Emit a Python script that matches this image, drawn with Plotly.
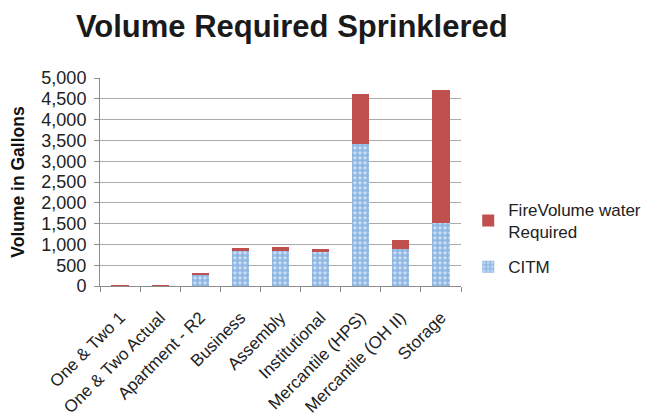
import plotly.graph_objects as go

categories = ["One & Two 1", "One & Two Actual", "Apartment - R2", "Business", "Assembly",
              "Institutional", "Mercantile (HPS)", "Mercantile (OH II)", "Storage"]
citm = [0, 0, 265, 865, 840, 840, 3410, 885, 1510]
fire_required = [20, 20, 50, 45, 95, 45, 1195, 215, 3195]
y_ticks = [0, 500, 1000, 1500, 2000, 2500, 3000, 3500, 4000, 4500, 5000]

fig = go.Figure()
fig.add_trace(go.Bar(
    x=categories, y=citm, name="CITM", legendgroup="b", legendrank=2,
    marker=dict(color="#dde8f6", line=dict(width=0),
                pattern=dict(shape=".", fgcolor="#3f86d0", bgcolor="#dde8f6", size=5, solidity=0.75)),
))
fig.add_trace(go.Bar(
    x=categories, y=fire_required, name="FireVolume water<br>Required", legendgroup="a", legendrank=1,
    marker=dict(color="#c0504d", line=dict(width=0)),
))

fig.update_layout(
    width=645, height=409,
    barmode="stack", bargap=0.57,
    paper_bgcolor="white", plot_bgcolor="white",
    margin=dict(l=92, r=192, t=70, b=131, autoexpand=False),
    title=dict(text="<b>Volume Required Sprinklered</b>", x=0.44, xanchor="center", y=0.955, yanchor="middle",
               font=dict(family="Liberation Sans, Arial", size=31, color="#1a1a1a")),
    font=dict(family="Liberation Sans, Arial", color="#222"),
    legend=dict(x=1.02, y=0.452, xanchor="left", yanchor="top", traceorder="grouped",
                font=dict(size=17, color="#222"), itemwidth=30, tracegroupgap=10,
                bgcolor="rgba(0,0,0,0)"),
    yaxis=dict(range=[0, 5000], tickvals=y_ticks, tickformat=",d",
               showgrid=True, gridcolor="#ababab", gridwidth=1,
               showline=True, linecolor="#8c8c8c", linewidth=1,
               ticks="outside", ticklen=5, tickcolor="#8c8c8c", ticklabelstandoff=4,
               tickfont=dict(size=18, color="#222"), automargin=False,
               title=dict(text="<b>Volume in Gallons</b>", font=dict(size=17.5, color="#111"), standoff=16),
               zeroline=False),
    xaxis=dict(tickangle=-45, tickfont=dict(size=17, color="#222"), automargin=False,
               showline=True, linecolor="#8c8c8c", linewidth=1,
               ticks="outside", tickson="boundaries", ticklen=5, tickcolor="#8c8c8c",
               ticklabelstandoff=14),
)

fig.write_html("out.html")
